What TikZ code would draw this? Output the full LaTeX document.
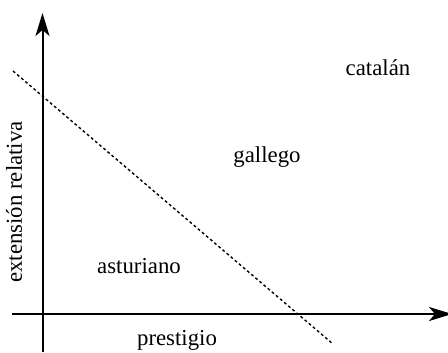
\documentclass[tikz,border=0pt]{standalone}
\usepackage{fontspec}
\setmainfont{Liberation Serif}
\usetikzlibrary{arrows.meta}
\begin{document}
\begin{tikzpicture}[x=0.5pt,y=-0.5pt,
  axis/.style={line width=1pt,-{Stealth[length=11.5pt,width=7pt,inset=3pt]}},
  guide/.style={line width=0.7pt,dash pattern=on 1.4pt off 1.3pt},
  lbl/.style={font=\fontsize{11.4pt}{13pt}\selectfont,inner sep=0pt}]
\useasboundingbox (0,0) rectangle (448,352);
\coordinate (ybot) at (42.5,352);
\coordinate (ytop) at (42.5,13);
\coordinate (xl) at (12,314);
\coordinate (xr) at (452,314);
\coordinate (d1) at (13,71);
\coordinate (d2) at (333,344);
\draw[axis] (ybot) -- (ytop);
\draw[axis] (xl) -- (xr);
\draw[guide] (d1) -- (d2);
\node[lbl] (cat) at (378,68) {catalán};
\node[lbl] (gal) at (267,157) {gallego};
\node[lbl] (ast) at (139,266) {asturiano};
\node[lbl] (pre) at (177,340) {prestigio};
\node[lbl,rotate=90] (ext) at (14,202) {extensión relativa};
\end{tikzpicture}
\end{document}
